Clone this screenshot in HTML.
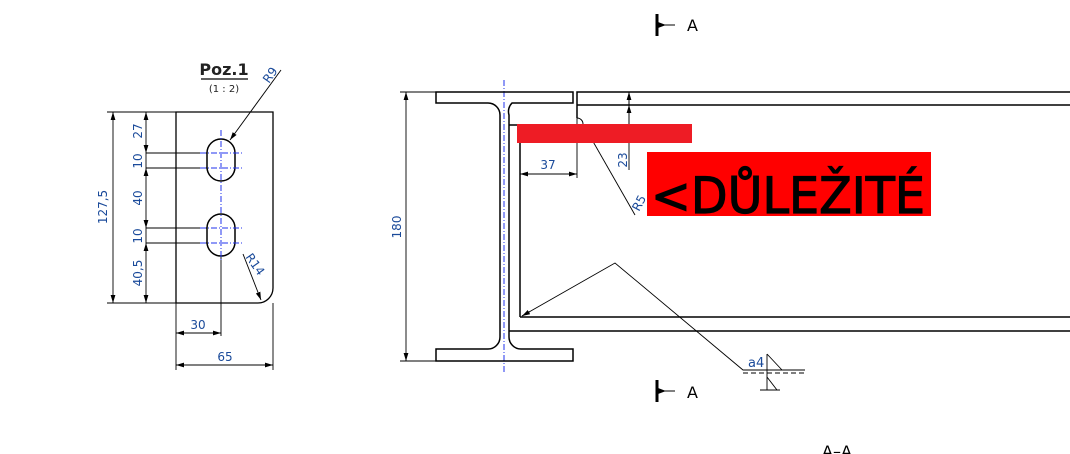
<!DOCTYPE html>
<html><head><meta charset="utf-8"><style>
html,body{margin:0;padding:0;background:#fff;width:1070px;height:454px;overflow:hidden}
text{font-family:"DejaVu Sans","Liberation Sans",sans-serif}
</style></head><body>
<svg width="1070" height="454" viewBox="0 0 1070 454" xmlns="http://www.w3.org/2000/svg">
<defs>
<marker id="a" viewBox="0 0 10 6" refX="10" refY="3" markerWidth="8" markerHeight="5" orient="auto-start-reverse" markerUnits="userSpaceOnUse"><path d="M0,0L10,3L0,6z" fill="#000"/></marker>
</defs>
<g fill="none" stroke="#000" stroke-width="1.3">
<path d="M176,112H273V288A15,15 0 0 1 258,303H176Z"/>
</g>
<g fill="none" stroke="#000" stroke-width="0.9">
<line x1="107" y1="112" x2="176" y2="112"/><line x1="107" y1="303" x2="176" y2="303"/>
<line x1="113" y1="112" x2="113" y2="303" marker-start="url(#a)" marker-end="url(#a)"/>
<line x1="146" y1="112" x2="146" y2="153" marker-start="url(#a)" marker-end="url(#a)"/>
<line x1="146" y1="168" x2="146" y2="228" marker-start="url(#a)" marker-end="url(#a)"/>
<line x1="146" y1="243" x2="146" y2="303" marker-start="url(#a)" marker-end="url(#a)"/>
<line x1="146" y1="153" x2="146" y2="168"/><line x1="146" y1="228" x2="146" y2="243"/>
<line x1="146" y1="153" x2="207" y2="153"/><line x1="146" y1="168" x2="207" y2="168"/>
<line x1="146" y1="228" x2="207" y2="228"/><line x1="146" y1="243" x2="207" y2="243"/>
<line x1="176" y1="303" x2="176" y2="370"/><line x1="273" y1="303" x2="273" y2="370"/>
<line x1="221" y1="256" x2="221" y2="336"/>
<line x1="176" y1="333" x2="221" y2="333" marker-start="url(#a)" marker-end="url(#a)"/>
<line x1="176" y1="365" x2="273" y2="365" marker-start="url(#a)" marker-end="url(#a)"/>
<line x1="281" y1="70" x2="230" y2="140" marker-end="url(#a)"/>
<line x1="243" y1="254" x2="261" y2="300" marker-end="url(#a)"/>
<line x1="201" y1="79" x2="248" y2="79" stroke-width="1.2"/>
</g>
<g fill="none" stroke="#000" stroke-width="1.5">
<rect x="207" y="139" width="28" height="42" rx="14"/>
<rect x="207" y="214" width="28" height="42" rx="14"/>
</g>
<g stroke="#2233ee" stroke-width="1" stroke-dasharray="6,2,1,2" fill="none">
<line x1="221" y1="130" x2="221" y2="262"/>
<line x1="200" y1="153" x2="243" y2="153"/><line x1="200" y1="168" x2="243" y2="168"/>
<line x1="200" y1="228" x2="243" y2="228"/><line x1="200" y1="243" x2="243" y2="243"/>
<line x1="504" y1="80" x2="504" y2="372"/>
</g>
<g font-size="12" fill="#1a4a9a">
<text transform="translate(142,131) rotate(-90)" text-anchor="middle">27</text>
<text transform="translate(142,161) rotate(-90)" text-anchor="middle">10</text>
<text transform="translate(142,198) rotate(-90)" text-anchor="middle">40</text>
<text transform="translate(142,236) rotate(-90)" text-anchor="middle">10</text>
<text transform="translate(142,273) rotate(-90)" text-anchor="middle">40,5</text>
<text transform="translate(107,207) rotate(-90)" text-anchor="middle">127,5</text>
<text x="198" y="329" text-anchor="middle">30</text>
<text x="225" y="361" text-anchor="middle">65</text>
<text transform="translate(269,84) rotate(-55)">R9</text>
<text transform="translate(245,257) rotate(55)">R14</text>
<text transform="translate(401,227) rotate(-90)" text-anchor="middle">180</text>
<text x="548" y="169" text-anchor="middle">37</text>
<text transform="translate(627,160) rotate(-90)" text-anchor="middle">23</text>
<text transform="translate(639,212) rotate(-62)">R5</text>
<text x="748" y="367" font-size="13">a4</text>
</g>
<text x="224" y="75" font-size="16" font-weight="bold" text-anchor="middle" fill="#222" font-family="Liberation Sans, sans-serif">Poz.1</text>
<text x="224" y="92" font-size="10" text-anchor="middle" fill="#222">(1 : 2)</text>
<g fill="none" stroke="#000" stroke-width="1.5">
<path d="M436,92H573V103H512A12,12 0 0 0 509,115V337A12,12 0 0 0 521,349H573V361H436V349H488A12,12 0 0 0 500,337V115A12,12 0 0 0 488,103H436Z"/>
<path d="M1070,92H577V105H1070M577,105V118M509,125H520V317M509,331H1070M520,317H1070"/>
<path d="M577,118A6,6 0 0 1 583,124" stroke-width="1"/>
</g>
<g fill="none" stroke="#000" stroke-width="0.9">
<line x1="400" y1="92" x2="436" y2="92"/><line x1="400" y1="361" x2="436" y2="361"/>
<line x1="406" y1="92" x2="406" y2="361" marker-start="url(#a)" marker-end="url(#a)"/>
<line x1="577" y1="118" x2="577" y2="178"/>
<line x1="520" y1="174" x2="577" y2="174" marker-start="url(#a)" marker-end="url(#a)"/>
<line x1="629" y1="92" x2="629" y2="170"/>
<line x1="629" y1="92" x2="629" y2="105" marker-start="url(#a)"/>
<line x1="629" y1="105" x2="629" y2="124" marker-start="url(#a)"/>
<line x1="583" y1="124" x2="635" y2="215"/>
<polyline points="522,316 615,263 743,370 805,370" />
<line x1="522" y1="316" x2="530" y2="311.5" marker-start="url(#a)"/>
<line x1="743" y1="373" x2="805" y2="373" stroke-dasharray="5,3"/>
<path d="M767,354V390M767,354L782,370M767,377L777,390M760,390H780"/>
</g>
<rect x="517" y="124" width="175" height="19" fill="#ee1c25"/>
<rect x="647" y="152" width="284" height="64" fill="#ff0000"/>
<text x="651" y="213" font-size="50" fill="#000" stroke="#000" stroke-width="1.2" font-family="Liberation Sans, sans-serif" textLength="274" lengthAdjust="spacingAndGlyphs">&lt;DŮLEŽITÉ</text>
<g stroke="#000" fill="none">
<line x1="657" y1="14" x2="657" y2="36" stroke-width="3"/>
<line x1="657" y1="25" x2="675" y2="25" stroke-width="1"/>
<line x1="657" y1="380" x2="657" y2="402" stroke-width="3"/>
<line x1="657" y1="391" x2="675" y2="391" stroke-width="1"/>
</g>
<path d="M658,22L666,25L658,28z M658,388L666,391L658,394z" fill="#000"/>
<g font-size="16" fill="#000" font-family="Liberation Sans, sans-serif">
<text x="687" y="31">A</text>
<text x="687" y="398">A</text>
<text x="822" y="457">A–A</text>
</g>
</svg>
</body></html>
